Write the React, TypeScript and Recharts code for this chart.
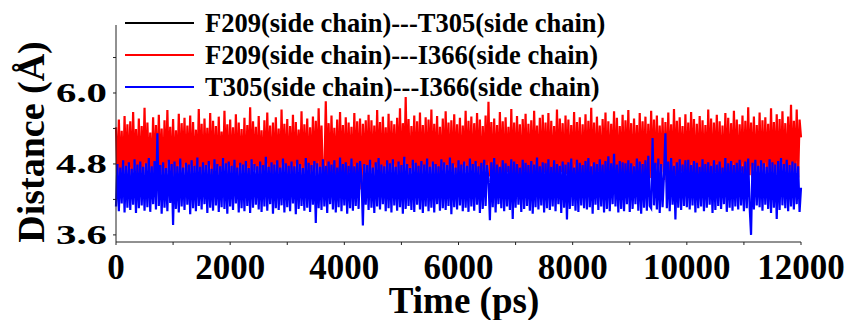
import { LineChart, Line, XAxis, YAxis, Legend } from "recharts"

// sampling step of the trajectory (ps)
const STEP_PS = 25

// F209(side chain)---I366(side chain), Å
const redDist = [
  5.42, 4.53, 5.55, 4.61, 5.36, 4.48, 5.61, 4.65, 5.47, 4.57,
  5.52, 4.50, 5.68, 4.68, 5.39, 4.55, 5.57, 4.46, 5.44, 4.63,
  5.75, 4.52, 5.50, 4.70, 5.33, 4.49, 5.59, 4.60, 5.46, 4.54,
  5.63, 4.64, 5.40, 4.47, 5.54, 4.58, 5.71, 4.66, 5.43, 4.51,
  5.56, 4.56, 5.37, 4.62, 5.65, 4.48, 5.49, 4.69, 5.58, 4.53,
  5.45, 4.59, 5.62, 4.50, 5.51, 4.65, 5.38, 4.54, 5.73, 4.60,
  5.48, 4.46, 5.57, 4.67, 5.41, 4.57, 5.66, 4.52, 5.53, 4.63,
  5.44, 4.49, 5.60, 4.61, 5.35, 4.55, 5.70, 4.68, 5.47, 4.50,
  5.55, 4.64, 5.42, 4.53, 5.64, 4.47, 5.50, 4.66, 5.39, 4.58,
  5.58, 4.51, 5.46, 4.62, 5.76, 4.54, 5.52, 4.69, 5.43, 4.48,
  5.61, 4.60, 5.37, 4.56, 5.54, 4.50, 5.67, 4.65, 5.45, 4.52,
  5.50, 4.57, 5.59, 4.63, 5.40, 4.46, 5.72, 4.67, 5.48, 4.55,
  5.56, 4.49, 5.44, 4.61, 5.63, 4.53, 5.51, 4.68, 5.38, 4.59,
  5.69, 4.52, 5.47, 4.64, 5.57, 4.48, 5.42, 4.56, 5.60, 4.62,
  5.53, 4.54, 5.74, 4.66, 5.45, 4.50, 4.58, 5.86, 4.60, 5.49,
  4.51, 5.62, 4.65, 5.41, 4.55, 5.55, 4.47, 5.68, 4.63, 5.46,
  4.58, 5.59, 4.52, 5.50, 4.67, 5.43, 4.49, 5.66, 4.61, 5.52,
  4.54, 5.57, 4.37, 5.48, 4.64, 5.54, 4.56, 5.63, 4.50, 5.54,
  4.66, 5.45, 4.53, 5.71, 4.60, 5.51, 4.48, 5.60, 4.65, 5.42,
  4.57, 5.65, 4.51, 5.53, 4.68, 5.47, 4.55, 5.58, 4.62, 5.74,
  4.49, 5.49, 4.64, 5.93, 4.56, 5.56, 4.52, 5.44, 4.67, 5.62,
  4.54, 5.52, 4.47, 5.67, 4.61, 5.46, 4.58, 5.59, 4.50, 5.55,
  4.65, 5.72, 4.53, 5.48, 4.63, 5.61, 4.48, 5.43, 4.59, 5.57,
  4.52, 5.69, 4.66, 5.50, 4.55, 5.54, 4.50, 5.64, 4.62, 5.47,
  4.57, 5.58, 4.49, 5.45, 4.68, 5.70, 4.54, 5.53, 4.60, 5.60,
  4.51, 5.49, 4.64, 5.66, 4.56, 5.55, 4.48, 5.44, 4.65, 5.62,
  4.53, 5.85, 4.59, 5.51, 4.50, 5.57, 4.63, 5.46, 4.55, 5.68,
  4.61, 5.52, 4.47, 5.59, 4.66, 5.43, 4.52, 5.73, 4.58, 5.50,
  4.54, 5.61, 4.62, 5.47, 4.49, 5.56, 4.67, 5.65, 4.53, 5.48,
  4.60, 5.54, 4.51, 5.70, 4.64, 5.45, 4.56, 5.58, 4.48, 5.63,
  4.65, 5.50, 4.55, 5.66, 4.50, 5.53, 4.61, 5.44, 4.57, 5.72,
  4.52, 5.57, 4.66, 5.49, 4.48, 5.62, 4.63, 5.55, 4.54, 5.46,
  4.59, 5.68, 4.51, 5.51, 4.65, 5.59, 4.47, 5.47, 4.62, 5.64,
  4.56, 5.53, 4.53, 5.75, 4.60, 5.50, 4.49, 5.60, 4.67, 5.45,
  4.54, 5.56, 4.63, 5.67, 4.50, 5.52, 4.58, 5.48, 4.64, 5.69,
  4.48, 5.58, 4.55, 5.44, 4.66, 5.63, 4.52, 5.54, 4.61, 5.71,
  4.57, 5.49, 4.50, 5.57, 4.63, 5.46, 4.54, 5.66, 4.59, 5.52,
  4.65, 5.60, 4.47, 5.48, 4.56, 5.70, 4.62, 5.55, 4.51, 5.62,
  4.58, 5.45, 4.66, 5.58, 4.53, 5.51, 4.49, 5.67, 4.64, 5.47,
  4.55, 5.73, 4.60, 5.53, 4.52, 5.59, 4.67, 5.44, 4.48, 5.64,
  4.61, 5.50, 4.54, 5.68, 4.65, 5.56, 4.50, 5.48, 4.57, 5.61,
  4.53, 5.54, 4.63, 5.46, 4.49, 5.72, 4.60, 5.57, 4.55, 5.50,
  4.66, 5.63, 4.51, 5.52, 4.58, 5.45, 4.47, 5.66, 4.64, 5.58,
  4.52, 5.49, 4.62, 5.70, 4.56, 5.55, 4.50, 5.47, 4.67, 5.62,
  4.54, 5.53, 4.48, 5.76, 4.61, 5.50, 4.57, 5.60, 4.53, 5.46,
  4.64, 5.67, 4.50, 5.54, 4.59, 5.59, 4.65, 5.48, 4.52, 5.74,
  4.56, 5.51, 4.62, 5.64, 4.49, 5.56, 4.55, 5.69, 4.63, 5.49,
  4.51, 5.60, 4.60, 5.80, 4.54, 5.53, 4.66, 5.72, 4.57, 5.55,
  5.25,
]

// T305(side chain)---I366(side chain), Å
const blueDist = [
  4.08, 4.80, 4.00, 4.74, 4.13, 4.86, 3.98, 4.77, 4.06, 4.83,
  4.02, 4.72, 4.11, 4.88, 3.97, 4.79, 4.05, 4.84, 4.10, 4.75,
  4.01, 4.81, 4.07, 4.90, 3.99, 4.76, 4.12, 4.85, 4.03, 5.32,
  4.09, 4.78, 3.96, 4.83, 4.06, 4.73, 4.00, 4.87, 4.14, 4.80,
  3.77, 4.84, 4.04, 4.76, 3.98, 4.89, 4.08, 4.74, 4.02, 4.82,
  4.11, 4.79, 3.95, 4.86, 4.05, 4.77, 4.00, 4.91, 4.09, 4.75,
  4.03, 4.83, 4.12, 4.78, 3.97, 4.85, 4.06, 4.72, 4.01, 4.88,
  4.10, 4.80, 3.99, 4.76, 4.07, 4.90, 4.04, 4.81, 3.96, 4.84,
  4.08, 4.77, 4.02, 4.87, 4.13, 4.74, 3.98, 4.82, 4.05, 4.79,
  4.00, 4.85, 4.09, 4.73, 3.97, 4.88, 4.06, 4.80, 4.11, 4.76,
  4.03, 4.84, 3.99, 4.78, 4.08, 4.92, 4.01, 4.75, 4.12, 4.83,
  3.96, 4.79, 4.05, 4.86, 4.02, 4.74, 4.10, 4.89, 3.98, 4.81,
  4.07, 4.77, 4.00, 4.84, 4.13, 4.76, 3.95, 4.87, 4.04, 4.80,
  4.09, 4.73, 4.01, 4.90, 4.06, 4.82, 3.99, 4.78, 4.11, 4.85,
  3.80, 4.81, 4.05, 4.75, 4.02, 4.88, 4.08, 4.77, 3.97, 4.84,
  4.12, 4.79, 4.03, 4.86, 3.98, 4.74, 4.07, 4.91, 4.00, 4.80,
  4.10, 4.83, 3.96, 4.77, 4.05, 4.89, 4.01, 4.76, 4.09, 4.82,
  4.04, 4.85, 4.60, 3.76, 4.80, 4.11, 4.78, 4.02, 4.87, 4.06,
  4.74, 3.97, 4.83, 4.08, 4.90, 4.03, 4.79, 4.12, 4.76, 4.00,
  4.86, 4.05, 4.81, 3.98, 4.88, 4.10, 4.75, 4.01, 4.84, 4.07,
  4.78, 3.96, 4.92, 4.04, 4.80, 4.09, 4.73, 4.02, 4.87, 3.99,
  4.82, 4.11, 4.77, 4.03, 4.85, 3.97, 4.79, 4.08, 4.89, 4.00,
  4.75, 4.06, 4.84, 3.98, 4.80, 4.12, 4.76, 4.01, 4.88, 4.05,
  4.83, 4.02, 4.78, 4.09, 4.91, 3.95, 4.81, 4.07, 4.74, 4.03,
  4.86, 4.10, 4.79, 4.00, 4.84, 4.06, 4.77, 3.99, 4.89, 4.08,
  4.80, 4.01, 4.85, 4.11, 4.76, 3.97, 4.82, 4.04, 4.87, 4.09,
  4.78, 4.55, 3.85, 4.83, 4.07, 4.90, 3.98, 4.79, 4.12, 4.75,
  4.05, 4.86, 4.00, 4.81, 4.08, 4.77, 4.02, 4.88, 3.87, 4.84,
  4.06, 4.80, 4.11, 4.74, 3.99, 4.87, 4.04, 4.82, 4.09, 4.78,
  4.01, 4.85, 3.96, 4.79, 4.07, 4.91, 4.03, 4.76, 4.10, 4.83,
  3.98, 4.81, 4.05, 4.88, 4.02, 4.75, 4.08, 4.86, 4.00, 4.80,
  4.12, 4.77, 3.97, 4.84, 4.06, 4.79, 3.86, 4.83, 4.04, 4.89,
  4.09, 4.74, 4.01, 4.87, 3.99, 4.82, 4.10, 4.78, 4.05, 4.85,
  4.03, 4.90, 4.07, 4.76, 3.96, 4.83, 4.11, 4.80, 4.02, 4.88,
  4.08, 4.79, 3.98, 4.85, 4.04, 4.93, 4.00, 4.81, 4.12, 4.97,
  4.08, 4.79, 3.98, 4.85, 4.04, 4.83, 4.00, 4.81, 4.12, 4.86,
  3.99, 4.81, 4.04, 4.76, 4.12, 4.89, 4.01, 4.84, 3.96, 4.80,
  4.06, 4.86, 4.01, 4.94, 4.09, 4.05, 5.24, 4.10, 4.82, 4.03,
  4.89, 3.97, 4.80, 4.07, 4.62, 5.32, 4.05, 4.84, 4.00, 4.90,
  4.11, 4.77, 3.86, 4.83, 4.06, 4.88, 4.02, 4.79, 4.09, 4.86,
  4.07, 4.87, 4.03, 4.78, 4.10, 4.85, 3.98, 4.82, 4.05, 4.75,
  4.08, 4.88, 4.00, 4.80, 4.06, 4.83, 4.11, 4.77, 3.97, 4.86,
  4.02, 4.79, 4.09, 4.84, 4.04, 4.74, 4.12, 4.90, 3.99, 4.81,
  4.06, 4.85, 4.01, 4.78, 4.08, 4.82, 4.03, 4.87, 4.10, 4.76,
  4.00, 4.84, 4.05, 4.89, 4.08, 3.60, 4.82, 4.03, 4.87, 4.10,
  4.77, 4.07, 4.86, 4.01, 4.81, 4.11, 4.75, 4.04, 4.88, 3.97,
  4.83, 4.06, 4.79, 3.87, 4.85, 4.02, 4.90, 4.10, 4.80, 4.05,
  4.87, 4.00, 4.78, 4.08, 4.84, 4.03, 4.81, 4.12, 4.76, 3.99,
  4.40,
]

const seriesNames = [
  "F209(side chain)---T305(side chain)",
  "F209(side chain)---I366(side chain)",
  "T305(side chain)---I366(side chain)",
]
const seriesColors = ["#000000", "#ff0000", "#0000ff"]

const xTicks = [0, 1000, 2000, 3000, 4000, 5000, 6000, 7000, 8000, 9000, 10000, 11000, 12000]
const xLabeled = [0, 2000, 4000, 6000, 8000, 10000, 12000]
const yTicks = [3.6, 4.2, 4.8, 5.4, 6.0, 6.6]
const yLabeled = [3.6, 4.8, 6.0]

const data = redDist.map((v, i) => ({
  t: i * STEP_PS,
  red: v,
  blue: blueDist[i],
}))

const FONT = '"Liberation Serif", "Times New Roman", serif'

const XTick = ({ x, payload }: any) => {
  if (!xLabeled.includes(payload.value)) return null
  return (
    <text x={x} y={279} textAnchor="middle" fontFamily={FONT} fontWeight="bold" fontSize={35} fill="#000">
      {payload.value}
    </text>
  )
}

const YTick = ({ y, payload }: any) => {
  if (!yLabeled.includes(payload.value)) return null
  return (
    <text
      x={56}
      y={y + 9}
      textLength={51}
      lengthAdjust="spacingAndGlyphs"
      fontFamily={FONT}
      fontWeight="bold"
      fontSize={28}
      fill="#000"
    >
      {payload.value.toFixed(1)}
    </text>
  )
}

const LegendBox = () => (
  <div style={{ position: "relative", width: 700, height: 110 }}>
    {seriesNames.map((name, i) => (
      <div key={name} style={{ position: "absolute", left: 0, top: 8 + i * 32, height: 30, display: "flex", alignItems: "center" }}>
        <div style={{ marginLeft: 125, width: 69, height: 2, background: seriesColors[i] }} />
        <span style={{ marginLeft: 11, fontFamily: FONT, fontWeight: "bold", fontSize: 26.5, color: "#000", whiteSpace: "nowrap" }}>
          {name}
        </span>
      </div>
    ))}
  </div>
)

export default function App() {
  return (
    <div style={{ position: "absolute", left: 0, top: 0, width: 854, height: 320, background: "#fff" }}>
      <LineChart width={854} height={320} data={data} margin={{ top: 25, right: 53, bottom: 0, left: 0 }}>
        <XAxis
          dataKey="t"
          type="number"
          domain={[0, 12000]}
          ticks={xTicks}
          interval={0}
          height={78}
          tickSize={3}
          stroke="#222"
          tick={<XTick />}
          label={{
            content: () => (
              <text x={464} y={313} textAnchor="middle" fontFamily={FONT} fontWeight="bold" fontSize={37} fill="#000">
                Time (ps)
              </text>
            ),
          }}
        />
        <YAxis
          type="number"
          domain={[3.48, 7.15]}
          ticks={yTicks}
          interval={0}
          width={116}
          tickSize={3}
          stroke="#222"
          allowDataOverflow
          tick={<YTick />}
          label={{
            content: () => (
              <text
                x={44}
                y={142}
                transform="rotate(-90 44 142)"
                textAnchor="middle"
                fontFamily={FONT}
                fontWeight="bold"
                fontSize={38}
                fill="#000"
              >
                Distance (Å)
              </text>
            ),
          }}
        />
        <Legend
          layout="vertical"
          align="center"
          verticalAlign="middle"
          wrapperStyle={{ left: 0, top: 0, width: 700 }}
          content={<LegendBox />}
        />
        <Line dataKey="red" name={seriesNames[1]} stroke={seriesColors[1]} strokeWidth={2.2} dot={false} isAnimationActive={false} />
        <Line dataKey="blue" name={seriesNames[2]} stroke={seriesColors[2]} strokeWidth={2.2} dot={false} isAnimationActive={false} />
      </LineChart>
    </div>
  )
}
